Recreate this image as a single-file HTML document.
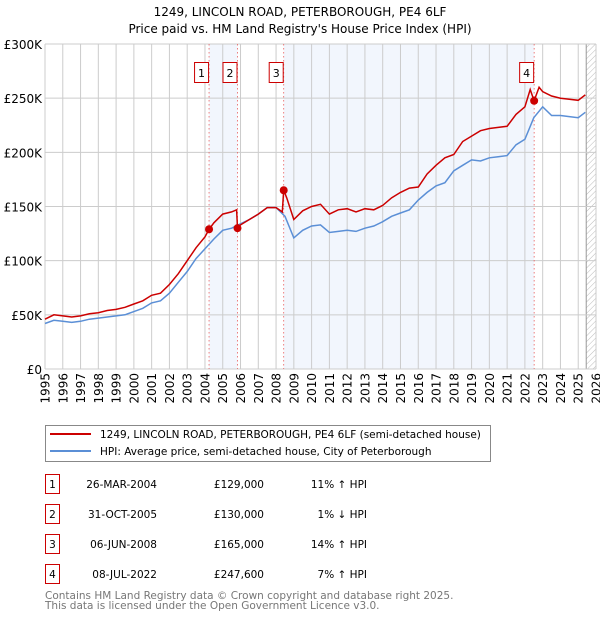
<!DOCTYPE html>
<html><head><meta charset="utf-8"><style>
body{margin:0;width:600px;height:620px;background:#fff;font-family:"DejaVu Sans","Liberation Sans",sans-serif;overflow:hidden}
svg{display:block;font-family:"DejaVu Sans","Liberation Sans",sans-serif}
</style></head><body>
<svg width="600" height="620" xmlns="http://www.w3.org/2000/svg" id="chart">
<defs><pattern id="hatch" width="4" height="4" patternUnits="userSpaceOnUse" patternTransform="rotate(45)"><line x1="0" y1="0" x2="0" y2="4" stroke="#bbb" stroke-width="1"/></pattern></defs>
<text x="300" y="16" text-anchor="middle" font-size="12" fill="#000">1249, LINCOLN ROAD, PETERBOROUGH, PE4 6LF</text>
<text x="300" y="33" text-anchor="middle" font-size="12" fill="#000">Price paid vs. HM Land Registry's House Price Index (HPI)</text>
<g id="plot"></g>
<g>
<rect x="45.5" y="425.5" width="445" height="36" fill="#fff" stroke="#888"/>
<line x1="50" y1="434" x2="91" y2="434" stroke="#cc0000" stroke-width="2"/>
<text x="100" y="438" font-size="10.5">1249, LINCOLN ROAD, PETERBOROUGH, PE4 6LF (semi-detached house)</text>
<line x1="50" y1="451" x2="91" y2="451" stroke="#5b8fd6" stroke-width="2"/>
<text x="100" y="455" font-size="10.5">HPI: Average price, semi-detached house, City of Peterborough</text>
</g>
<g id="table" font-size="10.5"></g>
<text x="45" y="599" font-size="10.5" fill="#777">Contains HM Land Registry data © Crown copyright and database right 2025.</text>
<text x="45" y="609" font-size="10.5" fill="#777">This data is licensed under the Open Government Licence v3.0.</text>
</svg>
<script>
const hpiYears=[1995,1995.5,1996,1996.5,1997,1997.5,1998,1998.5,1999,1999.5,2000,2000.5,2001,2001.5,2002,2002.5,2003,2003.5,2004,2004.5,2005,2005.5,2006,2006.5,2007,2007.5,2008,2008.5,2009,2009.5,2010,2010.5,2011,2011.5,2012,2012.5,2013,2013.5,2014,2014.5,2015,2015.5,2016,2016.5,2017,2017.5,2018,2018.5,2019,2019.5,2020,2020.5,2021,2021.5,2022,2022.5,2023,2023.5,2024,2024.5,2025,2025.4];
const hpiValues=[42,45,44,43,44,46,47,48,49,50,53,56,61,63,70,80,90,102,111,120,128,130,134,138,143,149,149,141,121,128,132,133,126,127,128,127,130,132,136,141,144,147,156,163,169,172,183,188,193,192,195,196,197,207,212,232,242,234,234,233,232,237];
const priceYears=[1995,1995.5,1996,1996.5,1997,1997.5,1998,1998.5,1999,1999.5,2000,2000.5,2001,2001.5,2002,2002.5,2003,2003.5,2004,2004.23,2004.5,2005,2005.5,2005.78,2005.83,2006,2006.5,2007,2007.5,2008,2008.35,2008.43,2008.6,2009,2009.5,2010,2010.5,2011,2011.5,2012,2012.5,2013,2013.5,2014,2014.5,2015,2015.5,2016,2016.5,2017,2017.5,2018,2018.5,2019,2019.5,2020,2020.5,2021,2021.5,2022,2022.3,2022.52,2022.8,2023,2023.5,2024,2024.5,2025,2025.4];
const priceValues=[46,50,49,48,49,51,52,54,55,57,60,63,68,70,78,88,100,112,122,129,135,143,145,147,130,133,138,143,149,149,145,165,158,138,146,150,152,143,147,148,145,148,147,151,158,163,167,168,180,188,195,198,210,215,220,222,223,224,235,242,258,247.6,260,256,252,250,249,248,253];
const saleLabels=["1","2","3","4"];
const saleYears=[2004.23,2005.83,2008.43,2022.52];
const salePrices=[129,130,165,247.6];
const saleDates=["26-MAR-2004","31-OCT-2005","06-JUN-2008","08-JUL-2022"];
const salePriceText=["£129,000","£130,000","£165,000","£247,600"];
const saleHpiText=["11% ↑ HPI","1% ↓ HPI","14% ↑ HPI","7% ↑ HPI"];
const yTicks=[0,50,100,150,200,250,300];
const yTickLabels=["£0","£50K","£100K","£150K","£200K","£250K","£300K"];
const xTicks=[1995,1996,1997,1998,1999,2000,2001,2002,2003,2004,2005,2006,2007,2008,2009,2010,2011,2012,2013,2014,2015,2016,2017,2018,2019,2020,2021,2022,2023,2024,2025,2026];

const X0=45,X1=596,Y0=369,Y1=44;
const xs=y=>X0+(y-1995)/(2026-1995)*(X1-X0);
const ys=v=>Y0-v/300*(Y0-Y1);
const NS="http://www.w3.org/2000/svg";
function mk(tag,attrs,parent,text){const e=document.createElementNS(NS,tag);for(const k in attrs)e.setAttribute(k,attrs[k]);if(text!==undefined)e.textContent=text;parent.appendChild(e);return e;}
const plot=document.getElementById('plot');
mk('rect',{x:X0,y:Y1,width:X1-X0,height:Y0-Y1,fill:'#fff'},plot);
let r=mk('rect',{x:xs(saleYears[0]),y:Y1,width:xs(saleYears[1])-xs(saleYears[0]),height:Y0-Y1,fill:'#f2f6fd'},plot);


r=mk('rect',{x:xs(saleYears[2]),y:Y1,width:xs(saleYears[3])-xs(saleYears[2]),height:Y0-Y1,fill:'#f2f6fd'},plot);


r=mk('rect',{x:xs(2025.45),y:Y1,width:X1-xs(2025.45),height:Y0-Y1,fill:'url(#hatch)'},plot);


mk('line',{x1:xs(2025.45),y1:Y1,x2:xs(2025.45),y2:Y0,stroke:'#999','stroke-width':1},plot);
xTicks.forEach(t=>{
 mk('line',{x1:xs(t),y1:Y1,x2:xs(t),y2:Y0,stroke:'#ccc','stroke-width':1},plot);
 const tx=mk('text',{x:0,y:0,transform:`translate(${xs(t)+4.5},${Y0+4}) rotate(-90)`,'text-anchor':'end','font-size':12},plot,String(t));
 
 
});
yTicks.forEach((t,i)=>{
 mk('line',{x1:X0,y1:ys(t),x2:X1,y2:ys(t),stroke:'#ccc','stroke-width':1},plot);
 const tx=mk('text',{x:X0-3,y:ys(t)+5,'text-anchor':'end','font-size':12},plot,yTickLabels[i]);
 
 
});
saleYears.forEach((s,i)=>{
 mk('line',{x1:xs(s),y1:Y1,x2:xs(s),y2:Y0,stroke:'#e86060','stroke-width':0.8,'stroke-dasharray':'1.5,2.5'},plot);
 const bx=mk('rect',{x:xs(s)-14.5,y:62.5,width:14,height:20,fill:'#fff',stroke:'#cc0000'},plot);
 
 
 mk('text',{x:xs(s)-7.5,y:77,'text-anchor':'middle','font-size':11},plot,saleLabels[i]);
});
const path=(xsArr,vals)=>xsArr.map((y,i)=>(i?'L':'M')+xs(y).toFixed(1)+','+ys(vals[i]).toFixed(1)).join(' ');
let p=mk('path',{d:path(hpiYears,hpiValues),fill:'none',stroke:'#5b8fd6','stroke-width':1.5},plot);


p=mk('path',{d:path(priceYears,priceValues),fill:'none',stroke:'#cc0000','stroke-width':1.5},plot);


saleYears.forEach((s,i)=>{
 const c=mk('circle',{cx:xs(s),cy:ys(salePrices[i]),r:4,fill:'#cc0000'},plot);
 
 
});
const tbl=document.getElementById('table');
saleLabels.forEach((l,i)=>{
 const y=483+i*30;
 const g=mk('g',{},tbl);
 
 
 mk('rect',{x:45.5,y:y-8.5,width:14,height:19,fill:'#fff',stroke:'#cc0000'},g);
 mk('text',{x:52.5,y:y+5,'text-anchor':'middle'},g,l);
 mk('text',{x:157,y:y+5,'text-anchor':'end'},g,saleDates[i]);
 mk('text',{x:264,y:y+5,'text-anchor':'end'},g,salePriceText[i]);
 mk('text',{x:367,y:y+5,'text-anchor':'end'},g,saleHpiText[i]);
});
</script>
</body></html>
